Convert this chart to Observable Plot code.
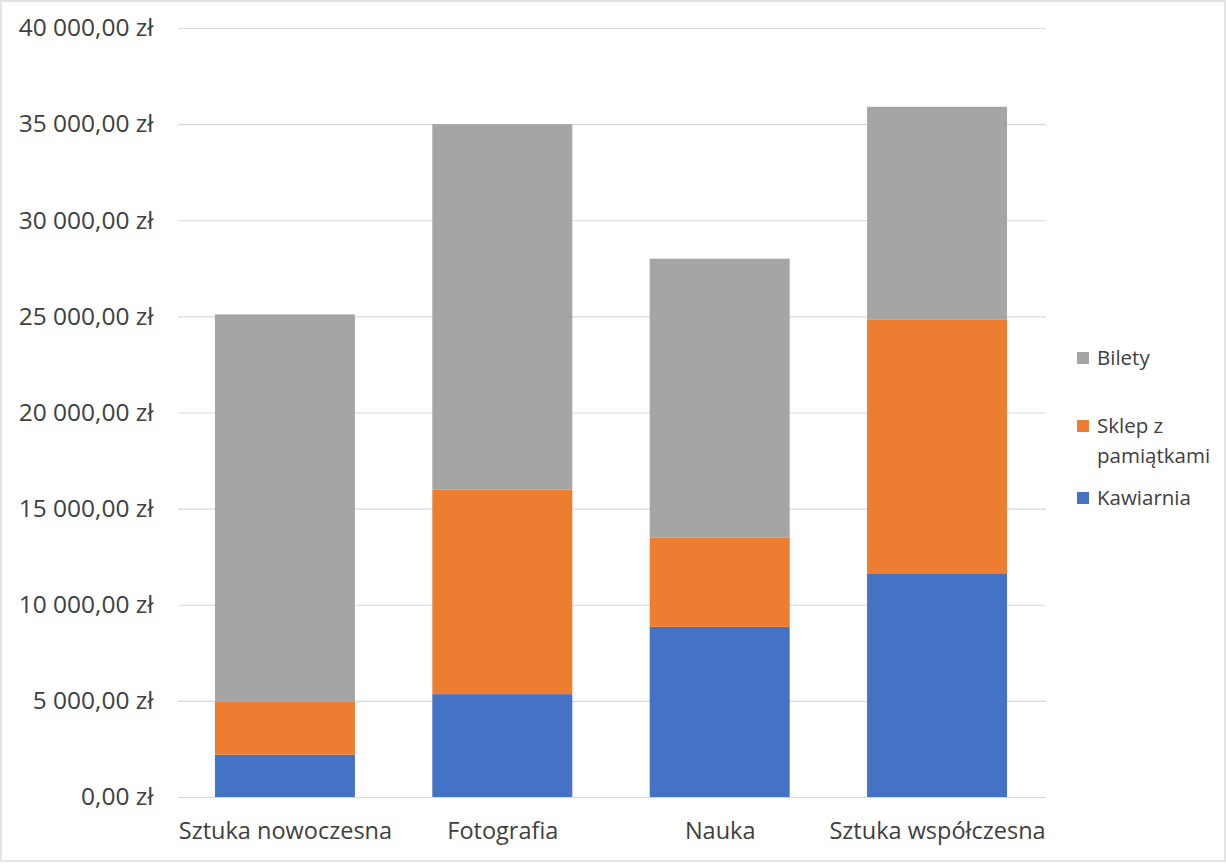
<!DOCTYPE html>
<html>
<head>
<meta charset="utf-8">
<script src="https://cdn.jsdelivr.net/npm/d3@7"></script>
<script src="https://cdn.jsdelivr.net/npm/@observablehq/plot@0.6"></script>
<style>
  html, body { margin: 0; padding: 0; background: #fff; }
  #wrap { position: relative; width: 1222px; height: 858px; border: 2px solid #e3e3e3; overflow: hidden; font-family: "Open Sans", sans-serif; }
  #chart { position: absolute; left: -2px; top: -2px; }
  #legend { position: absolute; left: 1075px; top: 340px; color: #404040; font-size: 20.5px; line-height: 30px; }
  .item { display: flex; align-items: flex-start; }
  .sw { width: 12px; height: 12px; margin-right: 8px; margin-top: 10px; flex: none; }
</style>
</head>
<body>
<div id="wrap"><div id="chart"></div><div id="legend"></div></div>
<script>
const categories = ["Sztuka nowoczesna", "Fotografia", "Nauka", "Sztuka współczesna"];
const seriesNames = ["Kawiarnia", "Sklep z pamiątkami", "Bilety"];
const kawiarnia = [2200, 5350, 8850, 11600];
const sklep = [2750, 10650, 4650, 13250];
const bilety = [20150, 19000, 14500, 11050];
const colors = ["#4472C4", "#ED7D31", "#A5A5A5"];
const yTicks = [0, 5000, 10000, 15000, 20000, 25000, 30000, 35000, 40000];

const seriesValues = [kawiarnia, sklep, bilety];
const data = [];
seriesNames.forEach((s, si) => categories.forEach((c, ci) => data.push({category: c, series: s, value: seriesValues[si][ci]})));

const locale = d3.formatLocale({decimal: ",", thousands: " ", grouping: [3], currency: ["", " zł"]});
const fmt = v => locale.format(",.2f")(v) + " zł";

const chart = Plot.plot({
  width: 1050,
  height: 864,
  marginLeft: 178,
  marginRight: 6,
  marginTop: 28,
  marginBottom: 67,
  style: {fontFamily: "Open Sans, sans-serif", fontSize: "20px", color: "#404040", background: "transparent"},
  x: {domain: categories, paddingInner: 0.356, paddingOuter: 0.17, round: false, label: null, tickSize: 0, tickPadding: 22},
  y: {domain: [0, 40000], ticks: yTicks, tickFormat: fmt, label: null, tickSize: 0, tickPadding: 24},
  color: {domain: seriesNames, range: colors},
  marks: [
    Plot.gridY(yTicks, {stroke: "#d9d9d9", strokeOpacity: 1, strokeWidth: 1.2, insetRight: -2}),
    Plot.barY(data, {x: "category", y: "value", fill: "series", order: seriesNames}),
    Plot.axisY({ticks: yTicks, tickFormat: fmt, tickSize: 0, tickPadding: 25, fontSize: 24.5, label: null}),
    Plot.axisX({tickSize: 0, tickPadding: 25, fontSize: 23.5, label: null})
  ]
});
document.getElementById("chart").appendChild(chart);

const legend = document.getElementById("legend");
const legendItems = [
  {name: "Bilety", color: colors[2], lines: ["Bilety"], gap: 38},
  {name: "Sklep z pamiątkami", color: colors[1], lines: ["Sklep z", "pamiątkami"], gap: 12},
  {name: "Kawiarnia", color: colors[0], lines: ["Kawiarnia"], gap: 0}
];
legendItems.forEach(it => {
  const d = document.createElement("div");
  d.className = "item";
  d.style.marginBottom = it.gap + "px";
  d.innerHTML = `<div class="sw" style="background:${it.color}"></div><div>${it.lines.join("<br>")}</div>`;
  legend.appendChild(d);
});
</script>
</body>
</html>
